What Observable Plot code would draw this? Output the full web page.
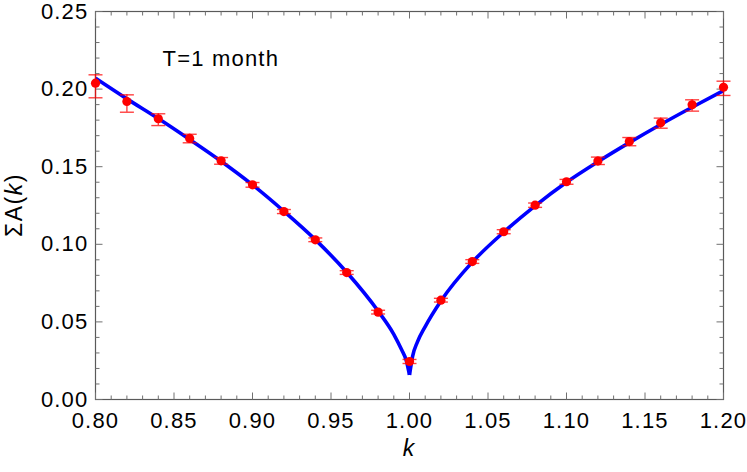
<!DOCTYPE html>
<html><head><meta charset="utf-8">
<script src="https://cdn.jsdelivr.net/npm/d3@7"></script>
<script src="https://cdn.jsdelivr.net/npm/@observablehq/plot@0.6"></script>
<style>body{margin:0;background:#fff}svg{display:block}</style>
</head><body><div id="chart"></div>
<script>
// measured points (k, mean, error-bar low, error-bar high)
const kValues    = [0.80, 0.82, 0.84, 0.86, 0.88, 0.90, 0.92, 0.94, 0.96, 0.98, 1.00, 1.02, 1.04, 1.06, 1.08, 1.10, 1.12, 1.14, 1.16, 1.18, 1.20];
const meanValues = [0.2038, 0.1920, 0.1809, 0.1682, 0.1538, 0.1383, 0.1211, 0.1029, 0.0818, 0.0563, 0.0245, 0.0640, 0.0889, 0.1081, 0.1252, 0.1403, 0.1536, 0.1662, 0.1783, 0.1899, 0.2012];
const lowValues  = [0.1944, 0.1851, 0.1765, 0.1654, 0.1516, 0.1368, 0.1198, 0.1017, 0.0806, 0.0551, 0.0232, 0.0628, 0.0877, 0.1068, 0.1238, 0.1387, 0.1514, 0.1635, 0.1748, 0.1858, 0.1959];
const highValues = [0.2092, 0.1963, 0.1841, 0.1709, 0.1559, 0.1398, 0.1224, 0.1041, 0.0830, 0.0575, 0.0258, 0.0652, 0.0901, 0.1094, 0.1266, 0.1418, 0.1562, 0.1688, 0.1813, 0.1931, 0.2051];

// fitted curve (two branches meeting at the cusp k = 1)
const curveLeftK  = [0.80, 0.82, 0.84, 0.86, 0.88, 0.90, 0.92, 0.94, 0.96, 0.98, 0.99, 0.995, 0.998, 1.00];
const curveLeftY  = [0.2070, 0.1937, 0.1810, 0.1675, 0.1535, 0.1383, 0.1213, 0.1030, 0.0820, 0.0570, 0.0420, 0.0320, 0.0250, 0.0158];
const curveRightK = [1.00, 1.002, 1.005, 1.01, 1.02, 1.04, 1.06, 1.08, 1.10, 1.12, 1.14, 1.16, 1.18, 1.20];
const curveRightY = [0.0158, 0.0280, 0.0370, 0.0470, 0.0635, 0.0885, 0.1078, 0.1248, 0.1400, 0.1532, 0.1655, 0.1772, 0.1883, 0.1990];

// ticks
const xMajorTicks = [0.80, 0.85, 0.90, 0.95, 1.00, 1.05, 1.10, 1.15, 1.20];
const xMinorTicks = [0.81, 0.82, 0.83, 0.84, 0.86, 0.87, 0.88, 0.89, 0.91, 0.92, 0.93, 0.94, 0.96, 0.97, 0.98, 0.99,
                     1.01, 1.02, 1.03, 1.04, 1.06, 1.07, 1.08, 1.09, 1.11, 1.12, 1.13, 1.14, 1.16, 1.17, 1.18, 1.19];
const yMajorTicks = [0.00, 0.05, 0.10, 0.15, 0.20, 0.25];
const yMinorTicks = [0.01, 0.02, 0.03, 0.04, 0.06, 0.07, 0.08, 0.09, 0.11, 0.12, 0.13, 0.14, 0.16, 0.17, 0.18, 0.19, 0.21, 0.22, 0.23, 0.24];

const annotation = "T=1 month";

const points = kValues.map((k, i) => ({k, mean: meanValues[i], lo: lowValues[i], hi: highValues[i]}));
const curve = [
  ...curveLeftK.map((k, i) => ({k, v: curveLeftY[i], branch: "left"})),
  ...curveRightK.map((k, i) => ({k, v: curveRightY[i], branch: "right"}))
];

const seg = (dx1, dy1, dx2, dy2) => ({draw(ctx) { ctx.moveTo(dx1, dy1); ctx.lineTo(dx2, dy2); }});
const MAJ = 7, MIN = 4;
const frameColor = "#5a5a5a";
const tickColor = "#707070";
const red = "#ff0000";
const FONT = "'Liberation Sans', Arial, sans-serif";

const tickMarks = [
  Plot.dot(xMajorTicks, {x: d => d, y: () => 0,    symbol: seg(0, 0, 0, -MAJ), stroke: tickColor, fill: "none", strokeWidth: 1}),
  Plot.dot(xMinorTicks, {x: d => d, y: () => 0,    symbol: seg(0, 0, 0, -MIN), stroke: tickColor, fill: "none", strokeWidth: 1}),
  Plot.dot(xMajorTicks, {x: d => d, y: () => 0.25, symbol: seg(0, 0, 0,  MAJ), stroke: tickColor, fill: "none", strokeWidth: 1}),
  Plot.dot(xMinorTicks, {x: d => d, y: () => 0.25, symbol: seg(0, 0, 0,  MIN), stroke: tickColor, fill: "none", strokeWidth: 1}),
  Plot.dot(yMajorTicks, {y: d => d, x: () => 0.80, symbol: seg(0, 0,  MAJ, 0), stroke: tickColor, fill: "none", strokeWidth: 1}),
  Plot.dot(yMinorTicks, {y: d => d, x: () => 0.80, symbol: seg(0, 0,  MIN, 0), stroke: tickColor, fill: "none", strokeWidth: 1}),
  Plot.dot(yMajorTicks, {y: d => d, x: () => 1.20, symbol: seg(0, 0, -MAJ, 0), stroke: tickColor, fill: "none", strokeWidth: 1}),
  Plot.dot(yMinorTicks, {y: d => d, x: () => 1.20, symbol: seg(0, 0, -MIN, 0), stroke: tickColor, fill: "none", strokeWidth: 1})
];

const chart = Plot.plot({
  width: 747,
  height: 472,
  marginLeft: 95,
  marginRight: 24,
  marginTop: 11,
  marginBottom: 73,
  style: {fontFamily: FONT, fontSize: "22px", color: "#000", background: "#fff", letterSpacing: "1.2px"},
  x: {domain: [0.80, 1.20], axis: null},
  y: {domain: [0, 0.25], axis: null},
  marks: [
    Plot.axisX(xMajorTicks, {tickSize: 0, tickPadding: 13, tickFormat: d => d.toFixed(2), label: null, fontSize: 22, fill: "#000"}),
    Plot.axisY(yMajorTicks, {tickSize: 0, tickPadding: 7, tickFormat: d => d.toFixed(2), label: null, fontSize: 22, fill: "#000"}),
    Plot.frame({stroke: frameColor, strokeWidth: 1.2}),
    ...tickMarks,
    Plot.line(curve, {x: "k", y: "v", z: "branch", stroke: "#0000ff", strokeWidth: 3.6, curve: "monotone-x", strokeLinecap: "butt"}),
    Plot.ruleX(points, {x: "k", y1: "lo", y2: "hi", stroke: red, strokeWidth: 1.4, strokeOpacity: 0.75}),
    Plot.dot(points, {x: "k", y: "hi", symbol: seg(-7, 0, 7, 0), stroke: red, fill: "none", strokeWidth: 1.4, strokeOpacity: 0.75}),
    Plot.dot(points, {x: "k", y: "lo", symbol: seg(-7, 0, 7, 0), stroke: red, fill: "none", strokeWidth: 1.4, strokeOpacity: 0.75}),
    Plot.dot(points, {x: "k", y: "mean", r: 4.6, fill: red, stroke: "none"}),
    Plot.text([annotation], {frameAnchor: "top-left", dx: 67, dy: 47, textAnchor: "start", lineAnchor: "middle", fontSize: 22, fill: "#000"})
  ]
});

document.getElementById("chart").appendChild(chart);

// axis titles with italic k
const svg = d3.select(chart);
const xt = svg.append("text")
  .attr("x", 409).attr("y", 456)
  .attr("text-anchor", "middle")
  .attr("font-family", FONT)
  .attr("font-size", 23).attr("fill", "#000");
xt.append("tspan").attr("font-style", "italic").text("k");

const yt = svg.append("text")
  .attr("transform", "translate(22,205) rotate(-90)")
  .attr("text-anchor", "middle")
  .attr("font-family", FONT)
  .attr("letter-spacing", "1.5px")
  .attr("font-size", 23).attr("fill", "#000");
yt.append("tspan").text("ΣA(");
yt.append("tspan").attr("font-style", "italic").text("k");
yt.append("tspan").text(")");
</script>
</body></html>
